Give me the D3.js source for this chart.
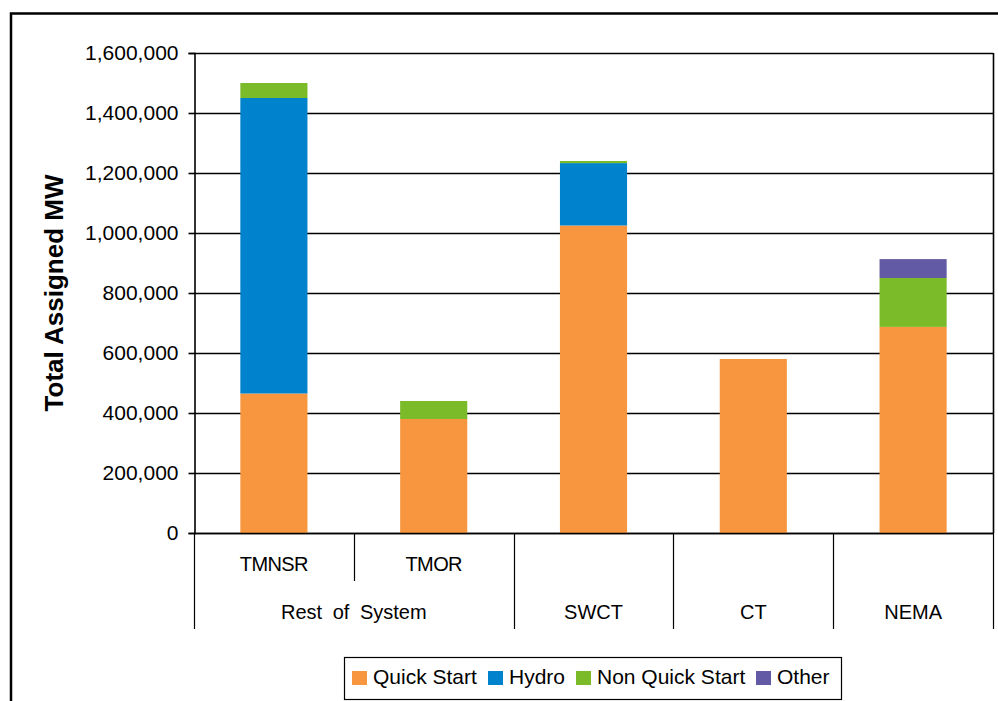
<!DOCTYPE html>
<html>
<head>
<meta charset="utf-8">
<script src="https://cdn.jsdelivr.net/npm/d3@7"></script>
<style>
  html, body { margin: 0; padding: 0; background: #fff; }
  svg { display: block; font-family: "Liberation Sans", Arial, sans-serif; }
</style>
</head>
<body>
<svg id="chart" width="998" height="701"></svg>
<script>
// Zones on the x axis; the first two share the "Rest of System" group
const categories = ["TMNSR", "TMOR", "SWCT", "CT", "NEMA"];
const subLabels = ["TMNSR", "TMOR", "", "", ""];
const groups = [
  { label: "Rest of System", from: 0, to: 1 },
  { label: "SWCT", from: 2, to: 2 },
  { label: "CT", from: 3, to: 3 },
  { label: "NEMA", from: 4, to: 4 }
];

// Assigned MW by resource type, stacked bottom to top
const seriesNames = ["Quick Start", "Hydro", "Non Quick Start", "Other"];
const quickStart = [465000, 380000, 1025000, 580000, 687000];
const hydro = [985000, 0, 208000, 0, 0];
const nonQuickStart = [50000, 60000, 7000, 0, 163000];
const other = [0, 0, 0, 0, 63000];

const yTicks = [0, 200000, 400000, 600000, 800000, 1000000, 1200000, 1400000, 1600000];
const colors = ["#F7963F", "#0082CD", "#7BBB2A", "#635AA6"];

const svg = d3.select("#chart");
const plot = { left: 194, right: 993, top: 53, bottom: 533 };

// Outer chart frame (runs off the right and bottom edges)
svg.append("path")
  .attr("d", "M11,701 V13.5 H1000")
  .attr("fill", "none").attr("stroke", "#000").attr("stroke-width", 2.5);

const x = d3.scaleBand().domain(categories).range([plot.left, plot.right]).padding(0);
const y = d3.scaleLinear().domain([0, 1600000]).range([plot.bottom, plot.top]);
const barW = x.bandwidth() * 0.42;

// Gridlines
svg.append("g").selectAll("line").data(yTicks).join("line")
  .attr("x1", plot.left).attr("x2", plot.right)
  .attr("y1", d => Math.round(y(d)) + 0.5).attr("y2", d => Math.round(y(d)) + 0.5)
  .attr("stroke", "#000").attr("stroke-width", 1.6);

// Plot area right border
svg.append("line")
  .attr("x1", plot.right + 0.5).attr("x2", plot.right + 0.5)
  .attr("y1", plot.top).attr("y2", plot.bottom)
  .attr("stroke", "#000").attr("stroke-width", 1.6);

// Stacked bars
const rows = categories.map((c, i) => ({
  cat: c,
  "Quick Start": quickStart[i],
  "Hydro": hydro[i],
  "Non Quick Start": nonQuickStart[i],
  "Other": other[i]
}));
const stack = d3.stack().keys(seriesNames)(rows);
svg.append("g").selectAll("g").data(stack).join("g")
  .attr("fill", (d, i) => colors[i])
  .selectAll("rect").data(d => d.filter(s => s[1] > s[0])).join("rect")
  .attr("x", d => x(d.data.cat) + (x.bandwidth() - barW) / 2)
  .attr("width", barW)
  .attr("y", d => y(d[1]))
  .attr("height", d => y(d[0]) - y(d[1]));

// Y axis
const yAxis = svg.append("g")
  .attr("transform", `translate(${plot.left + 0.5},0)`)
  .call(d3.axisLeft(y).tickValues(yTicks).tickFormat(d3.format(",")).tickSize(6).tickPadding(10));
yAxis.select(".domain").attr("stroke", "#000").attr("stroke-width", 1.6);
yAxis.selectAll(".tick line").attr("stroke", "#000").attr("stroke-width", 1.6);
yAxis.selectAll("text").attr("font-size", 21).attr("fill", "#000")
  .attr("font-family", "'Liberation Sans', Arial, sans-serif");

// Y axis title
svg.append("text")
  .attr("transform", `translate(63,${(plot.top + plot.bottom) / 2}) rotate(-90)`)
  .attr("text-anchor", "middle")
  .attr("font-size", 26).attr("font-weight", "bold")
  .text("Total Assigned MW");

// X axis baseline and category dividers
svg.append("line")
  .attr("x1", plot.left).attr("x2", plot.right + 1)
  .attr("y1", y(0) + 0.5).attr("y2", y(0) + 0.5)
  .attr("stroke", "#000").attr("stroke-width", 1.6);

const dividers = [];
groups.forEach(g => {
  dividers.push({ x: x(categories[g.from]), long: true });
  for (let i = g.from + 1; i <= g.to; i++) dividers.push({ x: x(categories[i]), long: false });
});
dividers.push({ x: plot.right, long: true });
svg.append("g").selectAll("line").data(dividers).join("line")
  .attr("x1", d => Math.round(d.x) + 0.5).attr("x2", d => Math.round(d.x) + 0.5)
  .attr("y1", y(0)).attr("y2", d => d.long ? 629 : 581)
  .attr("stroke", "#000").attr("stroke-width", 1.2);

// Sub-category labels (first row)
svg.append("g").selectAll("text").data(categories.map((c, i) => ({ c, t: subLabels[i] })).filter(d => d.t))
  .join("text")
  .attr("x", d => x(d.c) + x.bandwidth() / 2)
  .attr("y", 571)
  .attr("text-anchor", "middle")
  .attr("font-size", 20).attr("letter-spacing", -0.6)
  .text(d => d.t);

// Group labels (second row)
svg.append("g").selectAll("text").data(groups).join("text")
  .attr("x", g => (x(categories[g.from]) + x(categories[g.to]) + x.bandwidth()) / 2)
  .attr("y", 619)
  .attr("text-anchor", "middle")
  .attr("font-size", 20).attr("word-spacing", 5)
  .text(g => g.label);

// Legend
const legend = svg.append("g");
legend.append("rect")
  .attr("x", 344.5).attr("y", 657.5).attr("width", 497).attr("height", 42)
  .attr("fill", "#fff").attr("stroke", "#000").attr("stroke-width", 1.2);
const legendX = [352, 488, 576, 756];
seriesNames.forEach((name, i) => {
  legend.append("rect")
    .attr("x", legendX[i]).attr("y", 671).attr("width", 15).attr("height", 14)
    .attr("fill", colors[i]);
  legend.append("text")
    .attr("x", legendX[i] + 21).attr("y", 684)
    .attr("font-size", 21)
    .text(name);
});
</script>
</body>
</html>
